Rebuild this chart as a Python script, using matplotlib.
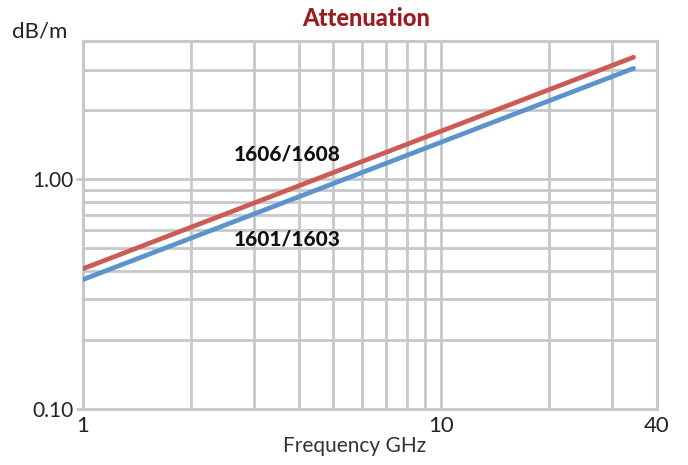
import matplotlib
matplotlib.use("Agg")
import matplotlib.pyplot as plt
from matplotlib.ticker import FixedLocator, NullFormatter, FixedFormatter
import numpy as np

# Data
freq_ghz = [1.0, 34.4]
att_1606_1608 = [0.408, 3.40]
att_1601_1603 = [0.366, 3.04]
series_labels = ["1606/1608", "1601/1603"]
x_major = [1, 10, 40]
x_major_labels = ["1", "10", "40"]
y_major = [0.1, 1.0]
y_major_labels = ["0.10", "1.00"]
x_grid = [1, 2, 3, 4, 5, 6, 7, 8, 9, 10, 20, 30, 40]
y_grid = [0.1, 0.2, 0.3, 0.4, 0.5, 0.6, 0.7, 0.8, 0.9, 1, 2, 3, 4]

plt.rcParams['font.family'] = ['Lato', 'DejaVu Sans']

W, H = 688, 465
fig = plt.figure(figsize=(W / 100, H / 100), dpi=100)
ax = fig.add_axes([83 / W, (H - 409) / H, (657 - 83) / W, (409 - 41) / H])
ax.set_xscale('log')
ax.set_yscale('log')
ax.set_xlim(1, 40)
ax.set_ylim(0.1, 4.0)

gridc = '#c8c8c8'
for xv in x_grid:
    ax.axvline(xv, color=gridc, lw=2, zorder=1)
for yv in y_grid:
    ax.axhline(yv, color=gridc, lw=2, zorder=1)

ax.plot(freq_ghz, att_1606_1608, color='#cd5b55', lw=3.4, solid_capstyle='round', zorder=3)
ax.plot(freq_ghz, att_1601_1603, color='#5b93cc', lw=3.4, solid_capstyle='round', zorder=3)

ax.text(3.72, 1.285, series_labels[0], ha='center', va='center', fontsize=15, fontweight='black', color='#111111')
ax.text(3.72, 0.547, series_labels[1], ha='center', va='center', fontsize=15, fontweight='black', color='#111111')

for s in ax.spines.values():
    s.set_color(gridc)
    s.set_linewidth(2.2)

ax.xaxis.set_major_locator(FixedLocator(x_major))
ax.xaxis.set_major_formatter(FixedFormatter(x_major_labels))
ax.xaxis.set_minor_locator(FixedLocator([]))
ax.xaxis.set_minor_formatter(NullFormatter())
ax.yaxis.set_major_locator(FixedLocator(y_major))
ax.yaxis.set_major_formatter(FixedFormatter(y_major_labels))
ax.yaxis.set_minor_locator(FixedLocator([]))
ax.yaxis.set_minor_formatter(NullFormatter())

ax.tick_params(axis='x', length=0, pad=5, labelsize=16, labelcolor='#222222')
ax.tick_params(axis='y', length=5, width=2, color=gridc, pad=2, labelsize=15, labelcolor='#222222')

fig.text(355 / W, 1 - 446 / H, 'Frequency GHz', ha='center', va='center', fontsize=15, color='#333333')
fig.text(366 / W, 1 - 18 / H, 'Attenuation', ha='center', va='center', fontsize=17,
         fontweight='black', color='#9b1c20')
fig.text(12 / W, 1 - 31 / H, 'dB/m', ha='left', va='center', fontsize=16, color='#222222')

fig.savefig('out.png', dpi=100)
